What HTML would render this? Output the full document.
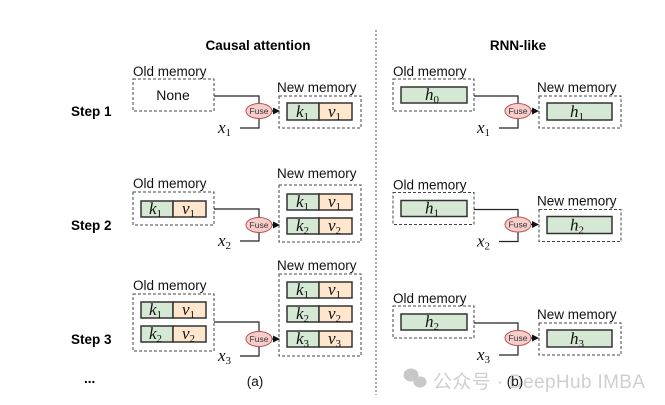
<!DOCTYPE html>
<html><head><meta charset="utf-8"><style>
html,body{margin:0;padding:0;background:#fff;}
svg{display:block;}
text{font-family:"Liberation Sans",sans-serif;}
.lbl{font-size:13.5px;fill:#111;}
.b{font-weight:bold;font-size:13.5px;fill:#000;}
.m{font-family:"Liberation Serif",serif;font-style:italic;font-size:17px;fill:#111;}
.s{font-style:normal;font-size:11px;}
.dash{fill:none;stroke:#444;stroke-width:1;stroke-dasharray:3,2;}
.g{fill:#d5e8d4;stroke:#333;stroke-width:1.5;}
.o{fill:#ffe6cc;stroke:#333;stroke-width:1.5;}
.ln{fill:none;stroke:#222;stroke-width:1.2;}
.fz{fill:#f8cecc;stroke:#b85450;stroke-width:1;}
.ft{font-size:8.5px;fill:#333;}
</style></head><body>
<svg width="665" height="405" viewBox="0 0 665 405" xmlns="http://www.w3.org/2000/svg">
<defs>
<g id="fuse">
<ellipse class="fz" cx="0" cy="0" rx="13" ry="7.5"/>
<text class="ft" x="0" y="3" text-anchor="middle">Fuse</text>
<path d="M13 0 L19 0" stroke="#222" stroke-width="1.2"/>
<path d="M21 0 L14 -3.5 L14 3.5 Z" fill="#111"/>
</g>
</defs>

<text class="b" x="258" y="50" text-anchor="middle">Causal attention</text>
<text class="b" x="518" y="50" text-anchor="middle">RNN-like</text>
<line x1="376" y1="30" x2="376" y2="395" stroke="#555" stroke-width="1" stroke-dasharray="2,2"/>

<text class="b" x="71" y="116">Step 1</text>
<text class="b" x="71" y="230">Step 2</text>
<text class="b" x="71" y="344">Step 3</text>
<text class="b" x="84" y="383">...</text>
<text class="lbl" x="255" y="386" text-anchor="middle">(a)</text>

<!-- LEFT STEP 1 -->
<text class="lbl" x="133" y="76">Old memory</text>
<rect class="dash" x="133" y="79" width="81" height="32"/>
<text class="lbl" x="173" y="100" text-anchor="middle" style="font-size:14px">None</text>
<path class="ln" d="M214 96 H259 V104"/>
<path class="ln" d="M240 128 H259 V118"/>
<text class="m" x="218" y="133">x<tspan class="s" dy="3">1</tspan></text>
<use href="#fuse" x="259" y="111"/>
<text class="lbl" x="277" y="92">New memory</text>
<rect class="dash" x="279" y="96" width="82" height="32"/>
<rect class="g" x="287" y="103" width="32" height="17"/><rect class="o" x="319" y="103" width="33" height="17"/>
<text class="m" x="296" y="117">k<tspan class="s" dy="3">1</tspan></text>
<text class="m" x="328" y="117">v<tspan class="s" dy="3">1</tspan></text>

<!-- LEFT STEP 2 -->
<text class="lbl" x="133" y="188">Old memory</text>
<rect class="dash" x="133" y="192" width="81" height="33"/>
<rect class="g" x="141" y="201" width="32" height="16"/><rect class="o" x="173" y="201" width="33" height="16"/>
<text class="m" x="149" y="214">k<tspan class="s" dy="3">1</tspan></text>
<text class="m" x="182" y="214">v<tspan class="s" dy="3">1</tspan></text>
<path class="ln" d="M214 209 H259 V218"/>
<path class="ln" d="M240 241 H259 V232"/>
<text class="m" x="218" y="246">x<tspan class="s" dy="3">2</tspan></text>
<use href="#fuse" x="259" y="225"/>
<text class="lbl" x="277" y="178">New memory</text>
<rect class="dash" x="279" y="185" width="82" height="57"/>
<rect class="g" x="287" y="194" width="32" height="16"/><rect class="o" x="319" y="194" width="33" height="16"/>
<text class="m" x="296" y="207">k<tspan class="s" dy="3">1</tspan></text>
<text class="m" x="328" y="207">v<tspan class="s" dy="3">1</tspan></text>
<rect class="g" x="287" y="218" width="32" height="16"/><rect class="o" x="319" y="218" width="33" height="16"/>
<text class="m" x="296" y="231">k<tspan class="s" dy="3">2</tspan></text>
<text class="m" x="328" y="231">v<tspan class="s" dy="3">2</tspan></text>

<!-- LEFT STEP 3 -->
<text class="lbl" x="133" y="290">Old memory</text>
<rect class="dash" x="133" y="294" width="81" height="57"/>
<rect class="g" x="141" y="302" width="32" height="16"/><rect class="o" x="173" y="302" width="33" height="16"/>
<text class="m" x="149" y="315">k<tspan class="s" dy="3">1</tspan></text>
<text class="m" x="182" y="315">v<tspan class="s" dy="3">1</tspan></text>
<rect class="g" x="141" y="326" width="32" height="16"/><rect class="o" x="173" y="326" width="33" height="16"/>
<text class="m" x="149" y="339">k<tspan class="s" dy="3">2</tspan></text>
<text class="m" x="182" y="339">v<tspan class="s" dy="3">2</tspan></text>
<path class="ln" d="M214 322 H259 V332"/>
<path class="ln" d="M240 356 H259 V346"/>
<text class="m" x="218" y="361">x<tspan class="s" dy="3">3</tspan></text>
<use href="#fuse" x="259" y="339"/>
<text class="lbl" x="277" y="270">New memory</text>
<rect class="dash" x="279" y="274" width="82" height="82"/>
<rect class="g" x="287" y="282" width="32" height="16"/><rect class="o" x="319" y="282" width="33" height="16"/>
<text class="m" x="296" y="295">k<tspan class="s" dy="3">1</tspan></text>
<text class="m" x="328" y="295">v<tspan class="s" dy="3">1</tspan></text>
<rect class="g" x="287" y="306" width="32" height="16"/><rect class="o" x="319" y="306" width="33" height="16"/>
<text class="m" x="296" y="319">k<tspan class="s" dy="3">2</tspan></text>
<text class="m" x="328" y="319">v<tspan class="s" dy="3">2</tspan></text>
<rect class="g" x="287" y="331" width="32" height="16"/><rect class="o" x="319" y="331" width="33" height="16"/>
<text class="m" x="296" y="344">k<tspan class="s" dy="3">3</tspan></text>
<text class="m" x="328" y="344">v<tspan class="s" dy="3">3</tspan></text>

<!-- RIGHT -->
<g>
<text class="lbl" x="393" y="76">Old memory</text>
<rect class="dash" x="393" y="79" width="81" height="32"/>
<rect class="g" x="401" y="87" width="66" height="16"/>
<text class="m" x="425" y="100">h<tspan class="s" dy="3">0</tspan></text>
<path class="ln" d="M474 96 H518 V104"/>
<path class="ln" d="M499 128 H518 V118"/>
<text class="m" x="477" y="133">x<tspan class="s" dy="3">1</tspan></text>
<use href="#fuse" x="518" y="111"/>
<text class="lbl" x="537" y="92">New memory</text>
<rect class="dash" x="539" y="96" width="82" height="32"/>
<rect class="g" x="547" y="103" width="65" height="17"/>
<text class="m" x="570" y="117">h<tspan class="s" dy="3">1</tspan></text>
</g>
<g transform="translate(0,113.5)">
<text class="lbl" x="393" y="76">Old memory</text>
<rect class="dash" x="393" y="79" width="81" height="32"/>
<rect class="g" x="401" y="87" width="66" height="16"/>
<text class="m" x="425" y="100">h<tspan class="s" dy="3">1</tspan></text>
<path class="ln" d="M474 96 H518 V104"/>
<path class="ln" d="M499 128 H518 V118"/>
<text class="m" x="477" y="133">x<tspan class="s" dy="3">2</tspan></text>
<use href="#fuse" x="518" y="111"/>
<text class="lbl" x="537" y="92">New memory</text>
<rect class="dash" x="539" y="96" width="82" height="32"/>
<rect class="g" x="547" y="103" width="65" height="17"/>
<text class="m" x="570" y="117">h<tspan class="s" dy="3">2</tspan></text>
</g>
<g transform="translate(0,227)">
<text class="lbl" x="393" y="76">Old memory</text>
<rect class="dash" x="393" y="79" width="81" height="32"/>
<rect class="g" x="401" y="87" width="66" height="16"/>
<text class="m" x="425" y="100">h<tspan class="s" dy="3">2</tspan></text>
<path class="ln" d="M474 96 H518 V104"/>
<path class="ln" d="M499 128 H518 V118"/>
<text class="m" x="477" y="133">x<tspan class="s" dy="3">3</tspan></text>
<use href="#fuse" x="518" y="111"/>
<text class="lbl" x="537" y="92">New memory</text>
<rect class="dash" x="539" y="96" width="82" height="32"/>
<rect class="g" x="547" y="103" width="65" height="17"/>
<text class="m" x="570" y="117">h<tspan class="s" dy="3">3</tspan></text>
</g>

<!-- watermark -->
<g fill="#c8c8c8">
<ellipse cx="411" cy="375" rx="7.5" ry="6.5"/>
<ellipse cx="420" cy="382" rx="6.5" ry="5.5"/>
</g>
<text x="433" y="388" style="font-family:'Liberation Sans','Noto Sans CJK SC',sans-serif;font-size:19px;fill:#cfcfcf" textLength="212">公众号 · DeepHub IMBA</text>
<text class="lbl" x="515" y="386" text-anchor="middle">(b)</text>
</svg>
</body></html>
